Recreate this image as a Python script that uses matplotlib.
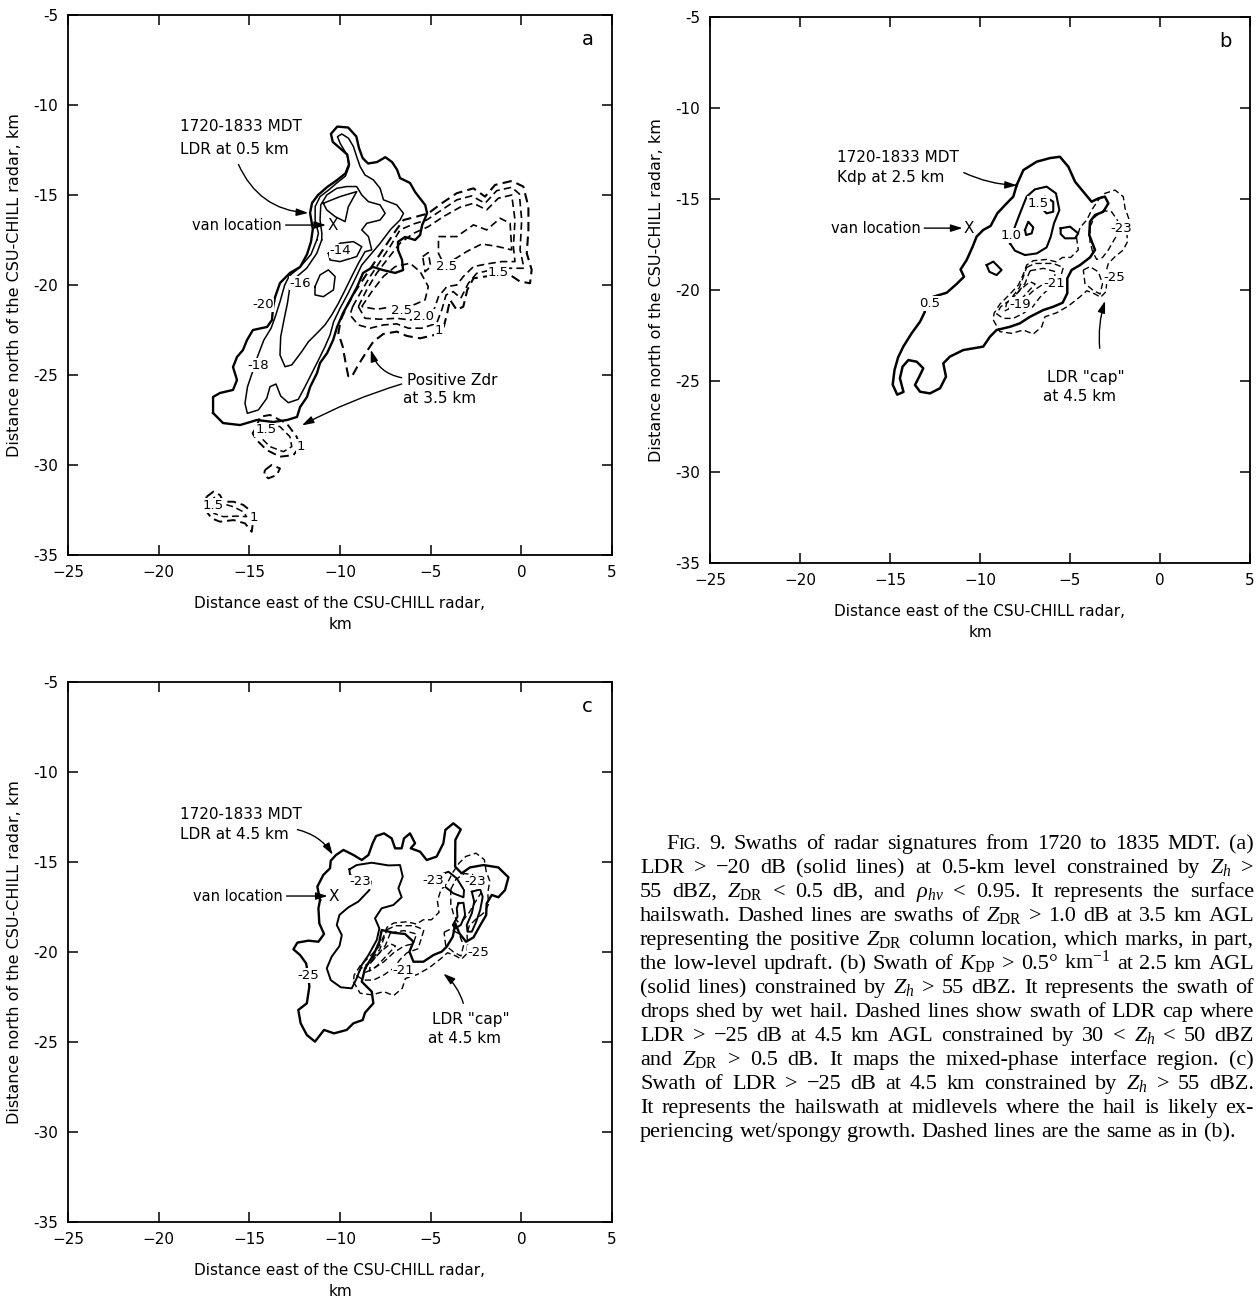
import matplotlib.pyplot as plt

plt.rcParams['font.family'] = 'DejaVu Sans'
plt.rcParams['mathtext.fontset'] = 'custom'
plt.rcParams['mathtext.rm'] = 'Liberation Serif'
plt.rcParams['mathtext.it'] = 'Liberation Serif:italic'

W, H = 1256, 1299

# ---------------- panel a: LDR at 0.5 km (solid) and Zdr at 3.5 km (dashed), km
a_ldr_m20 = [(-17.0, -27.11), (-17.0, -26.22), (-16.62, -26.0), (-15.9, -25.83), (-15.68, -25.28),
             (-15.9, -24.56), (-15.68, -24.0), (-15.35, -23.61), (-15.13, -23.06), (-14.8, -22.5),
             (-14.02, -22.33), (-13.75, -21.94), (-13.69, -21.22), (-13.58, -20.67), (-13.31, -19.89),
             (-12.76, -19.33), (-12.2, -19.0), (-11.82, -18.3), (-11.6, -17.6), (-11.5, -16.9),
             (-11.65, -16.0), (-11.54, -15.44), (-11.21, -15.0), (-10.71, -14.56), (-10.16, -14.17),
             (-9.7, -13.8), (-9.5, -13.3), (-9.6, -12.75), (-10.0, -12.4), (-10.4, -12.05),
             (-10.5, -11.6), (-10.15, -11.2), (-9.55, -11.25), (-9.1, -11.75), (-8.95, -12.4),
             (-8.75, -12.95), (-8.45, -13.25), (-7.96, -13.17), (-7.5, -12.9), (-7.13, -13.17),
             (-6.85, -13.6), (-6.69, -14.06), (-6.14, -14.33), (-5.86, -14.83), (-5.6, -15.17),
             (-5.3, -15.56), (-5.2, -16.0), (-5.3, -16.28), (-5.47, -16.67), (-5.58, -17.22),
             (-5.86, -17.5), (-6.41, -17.33), (-6.8, -17.6), (-6.8, -18.06), (-6.58, -18.6),
             (-6.52, -19.17), (-6.96, -19.33), (-7.63, -19.17), (-8.18, -19.0), (-8.73, -19.33),
             (-9.06, -20.11), (-9.44, -20.83), (-9.83, -21.56), (-10.16, -22.33), (-10.38, -23.06),
             (-10.71, -23.78), (-11.1, -24.33), (-11.27, -24.9), (-11.65, -25.67), (-11.82, -26.22),
             (-12.2, -26.78), (-12.37, -27.33), (-12.92, -27.5), (-13.69, -27.61), (-14.58, -27.5),
             (-15.51, -27.78), (-16.45, -27.67)]
a_ldr_m18 = [(-11.28, -17.5), (-11.6, -18.3), (-12.2, -19.0), (-12.8, -19.5), (-13.05, -20.0),
             (-13.3, -20.9), (-13.55, -21.7), (-13.8, -22.4), (-14.2, -23.06), (-14.55, -23.98),
             (-14.85, -24.91), (-15.1, -25.65), (-15.24, -26.57), (-15.11, -27.13), (-14.5, -26.94),
             (-14.04, -26.3), (-13.86, -25.65), (-13.53, -25.5), (-13.27, -26.17), (-12.85, -26.54),
             (-12.3, -26.35), (-11.93, -25.65), (-11.56, -24.91), (-11.19, -24.17), (-10.83, -23.43),
             (-10.55, -22.78), (-10.35, -22.04), (-10.0, -21.3), (-9.55, -20.46), (-9.15, -19.63),
             (-8.8, -18.89), (-7.8, -17.7), (-7.2, -16.9), (-6.69, -16.39), (-6.5, -16.02),
             (-6.87, -15.55), (-7.6, -15.27), (-7.79, -14.63), (-8.16, -14.16), (-8.62, -13.89),
             (-8.89, -13.42), (-9.08, -12.87), (-9.26, -12.31), (-9.53, -11.85), (-9.9, -11.61),
             (-10.14, -11.76), (-9.99, -12.13), (-9.6, -12.8), (-9.5, -13.4), (-9.7, -13.95),
             (-10.2, -14.35), (-10.6, -14.7), (-11.1, -15.09), (-11.37, -15.64), (-11.37, -16.39),
             (-11.19, -17.13)]
a_ldr_m16 = [(-11.01, -17.5), (-11.28, -18.24), (-11.84, -19.07), (-12.39, -19.54), (-12.76, -20.09),
             (-12.9, -21.02), (-13.09, -21.94), (-13.27, -22.87), (-13.31, -23.89), (-13.03, -24.54),
             (-12.66, -24.44), (-12.11, -23.7), (-11.74, -23.15), (-11.28, -22.69), (-10.83, -22.22),
             (-10.46, -21.67), (-10.09, -21.02), (-9.72, -20.28), (-9.36, -19.54), (-8.99, -18.8),
             (-8.62, -18.15), (-8.25, -18.05), (-8.43, -17.31), (-8.8, -16.94), (-8.52, -16.57),
             (-7.79, -16.39), (-7.51, -16.02), (-7.79, -15.55), (-8.43, -15.37), (-8.8, -15.0),
             (-9.08, -14.53), (-9.63, -14.53), (-10.18, -14.63), (-10.73, -15.0), (-11.06, -15.55),
             (-11.1, -16.39), (-11.0, -17.13)]
a_ldr_m14_n = [(-10.92, -15.46), (-10.0, -15.09), (-9.08, -14.81), (-9.54, -15.65), (-9.72, -16.48),
               (-10.27, -16.2), (-10.73, -15.83)]
a_ldr_m14_c = [(-10.64, -18.24), (-10.0, -17.68), (-9.26, -17.59), (-8.8, -17.87), (-9.08, -18.42),
               (-10.0, -18.7), (-10.55, -18.61)]
a_ldr_m14_s = [(-11.38, -20.09), (-11.1, -19.44), (-10.64, -19.16), (-10.27, -19.53), (-10.36, -20.27),
               (-10.92, -20.65), (-11.38, -20.55)]

a_zdr_10 = [(-9.54, -25.09), (-9.72, -24.16), (-9.85, -23.42), (-10.09, -22.68), (-9.96, -21.94),
            (-9.63, -21.2), (-9.17, -20.37), (-8.62, -19.53), (-8.07, -18.7), (-7.52, -17.87),
            (-6.96, -17.03), (-6.5, -16.39), (-5.77, -16.2), (-5.13, -16.02), (-4.39, -15.46),
            (-3.56, -14.9), (-2.64, -14.63), (-2.0, -15.09), (-1.45, -14.44), (-0.53, -14.22),
            (0.11, -14.53), (0.39, -15.65), (0.39, -16.94), (0.3, -18.24), (0.57, -19.16),
            (0.48, -19.9), (-0.07, -19.81), (-0.62, -19.44), (-1.27, -19.44), (-2.0, -19.53),
            (-2.64, -19.63), (-2.98, -20.27), (-3.2, -21.2), (-3.56, -21.39), (-3.93, -20.83),
            (-4.11, -21.66), (-4.3, -22.4), (-4.76, -22.77), (-5.58, -22.96), (-6.32, -22.83),
            (-6.87, -22.59), (-7.61, -22.72), (-8.16, -23.14), (-8.53, -23.7), (-8.99, -24.44),
            (-9.35, -25.09)]
a_zdr_15 = [(-9.3, -21.2), (-8.89, -20.46), (-8.34, -19.53), (-7.79, -18.7), (-7.24, -17.87),
            (-6.69, -16.94), (-5.95, -16.61), (-5.22, -16.39), (-4.39, -15.83), (-3.56, -15.27),
            (-2.74, -15.05), (-2.0, -15.46), (-1.36, -14.76), (-0.53, -14.57), (-0.11, -14.94),
            (0.02, -16.39), (-0.07, -18.05), (0.15, -19.07), (-0.44, -19.07), (-1.08, -19.07),
            (-1.82, -19.2), (-2.46, -19.35), (-2.92, -19.9), (-3.34, -20.74), (-3.75, -20.37),
            (-4.15, -20.55), (-4.39, -21.39), (-4.67, -22.13), (-5.49, -22.4), (-6.23, -22.4),
            (-6.87, -22.16), (-7.61, -22.22), (-8.34, -22.4), (-8.99, -22.22), (-9.45, -21.66)]
a_zdr_20 = [(-8.99, -21.2), (-8.53, -20.27), (-7.98, -19.35), (-7.42, -18.61), (-6.69, -17.68),
            (-5.95, -17.13), (-5.13, -16.76), (-4.3, -16.2), (-3.38, -15.68), (-2.64, -15.46),
            (-1.91, -15.83), (-1.27, -15.18), (-0.53, -15.0), (-0.35, -16.39), (-0.44, -17.87),
            (-0.35, -18.7), (-1.08, -18.7), (-1.91, -18.83), (-2.64, -18.98), (-3.2, -19.53),
            (-3.56, -20.0), (-4.11, -20.09), (-4.57, -20.65), (-4.85, -21.48), (-5.31, -21.85),
            (-6.14, -21.94), (-6.87, -21.85), (-7.79, -21.9), (-8.62, -21.85)]
a_zdr_25_ne = [(-4.57, -17.31), (-3.56, -17.31), (-2.64, -16.66), (-1.91, -16.94), (-1.17, -16.29),
               (-0.62, -16.57), (-0.53, -18.05), (-1.27, -17.87), (-2.18, -17.72), (-3.01, -18.14),
               (-3.75, -18.61), (-4.3, -18.79), (-4.57, -18.24)]
a_zdr_25_sw = [(-8.8, -21.2), (-8.25, -20.37), (-7.61, -19.53), (-6.96, -18.98), (-6.14, -18.79),
               (-5.58, -19.26), (-5.13, -20.09), (-5.31, -20.83), (-5.95, -21.11), (-7.06, -21.2),
               (-7.98, -21.35)]
a_zdr_25_cell = [(-5.44, -18.42), (-5.13, -18.2), (-5.0, -18.98), (-5.31, -19.26)]
a_zdr_10_s = [(-14.6, -27.87), (-14.41, -27.32), (-13.86, -27.22), (-12.94, -27.69), (-12.39, -28.43),
              (-12.21, -28.98), (-12.57, -29.45), (-13.31, -29.54), (-14.04, -29.17), (-14.6, -28.61),
              (-14.82, -28.24)]
a_zdr_15_s = [(-14.41, -28.06), (-14.04, -27.69), (-13.31, -27.87), (-12.76, -28.43), (-12.66, -28.98),
              (-13.12, -29.26), (-13.86, -28.98), (-14.32, -28.52)]
a_zdr_10_dot = [(-14.14, -30.28), (-13.77, -30.0), (-13.31, -30.19), (-13.49, -30.56), (-13.95, -30.74),
                (-14.19, -30.56)]
a_zdr_10_far = [(-17.35, -31.76), (-16.98, -31.48), (-16.62, -31.67), (-16.43, -32.04), (-15.88, -32.04),
                (-15.33, -32.22), (-14.87, -32.6), (-14.78, -33.06), (-14.87, -33.71), (-15.24, -33.24),
                (-15.88, -33.06), (-16.62, -33.15), (-17.08, -32.96), (-17.35, -32.6), (-17.54, -32.22)]
a_zdr_15_far = [(-17.17, -32.04), (-16.89, -31.76), (-16.52, -32.13), (-15.88, -32.32), (-15.33, -32.6),
                (-15.15, -32.87), (-15.7, -32.84), (-16.43, -32.87), (-16.95, -32.69)]

# ---------------- panel b: Kdp at 2.5 km (solid), km
b_kdp_05 = [(-7.96, -14.23), (-7.59, -13.41), (-6.85, -12.95), (-6.1, -12.75), (-5.56, -12.68),
            (-5.09, -13.23), (-4.72, -14.05), (-4.26, -14.6), (-3.8, -15.15), (-3.43, -14.97),
            (-3.06, -14.87), (-2.87, -15.24), (-3.15, -15.7), (-3.61, -15.88), (-3.89, -16.25),
            (-3.93, -16.98), (-3.61, -17.8), (-3.89, -18.21), (-4.44, -18.63), (-4.91, -18.9),
            (-5.15, -19.36), (-5.15, -20.18), (-5.41, -20.7), (-5.93, -20.92), (-6.48, -21.1),
            (-7.22, -21.47), (-7.78, -21.83), (-8.33, -22.02), (-9.08, -22.2), (-9.45, -22.57),
            (-9.82, -23.11), (-10.93, -23.3), (-11.67, -23.66), (-12.04, -24.03), (-11.89, -24.76),
            (-12.22, -25.4), (-12.78, -25.68), (-13.33, -25.59), (-13.61, -25.22), (-13.33, -24.67),
            (-13.15, -24.3), (-13.52, -23.94), (-13.98, -23.85), (-14.3, -24.21), (-14.45, -24.85),
            (-14.25, -25.6), (-14.6, -25.75), (-14.85, -25.2), (-14.75, -24.4), (-14.55, -23.7),
            (-14.26, -23.11), (-13.8, -22.38), (-13.33, -21.74), (-13.06, -21.19), (-13.24, -20.73),
            (-12.59, -20.37), (-11.85, -20.15), (-11.3, -19.67), (-10.89, -19.27), (-11.08, -18.87),
            (-10.74, -18.35), (-10.41, -17.62), (-10.19, -17.07), (-9.82, -16.7), (-9.41, -16.48),
            (-9.04, -15.79), (-8.52, -15.24), (-8.15, -14.87)]
b_kdp_10 = [(-8.33, -17.44), (-8.06, -16.52), (-7.78, -15.79), (-7.41, -14.87), (-6.95, -14.47),
            (-6.3, -14.32), (-5.78, -14.69), (-5.59, -15.61), (-5.89, -16.34), (-6.07, -17.07),
            (-6.3, -17.66), (-6.85, -17.99), (-7.5, -18.08), (-8.06, -17.84)]
b_kdp_15 = [(-6.76, -15.15), (-6.39, -14.87), (-5.93, -15.15), (-5.93, -15.7), (-6.3, -15.79),
            (-6.57, -15.51)]
b_kdp_10_w = [(-7.5, -16.7), (-7.32, -16.25), (-7.04, -16.56), (-7.13, -16.89), (-7.44, -16.98)]
b_kdp_10_e = [(-5.52, -16.61), (-5.0, -16.52), (-4.54, -16.89), (-4.72, -17.16), (-5.28, -17.16),
              (-5.52, -16.92)]
b_kdp_10_s = [(-9.63, -18.63), (-9.26, -18.44), (-8.8, -18.9), (-9.08, -19.18), (-9.48, -19.0)]

# ---------------- LDR "cap" at 4.5 km (dashed, panels b and c), km
cap_m25 = [(-9.26, -21.65), (-8.89, -22.29), (-8.24, -22.38), (-7.59, -22.2), (-7.04, -22.42),
           (-6.57, -22.02), (-6.39, -21.47), (-5.74, -21.25), (-5.09, -20.88), (-4.44, -20.37),
           (-4.07, -20.04), (-3.61, -20.22), (-3.3, -20.4), (-3.0, -20.09), (-2.96, -19.54),
           (-3.0, -19.0), (-2.87, -18.54), (-2.5, -18.17), (-2.04, -17.8), (-1.81, -17.35),
           (-1.85, -16.71), (-1.74, -16.06), (-1.94, -15.52), (-2.04, -14.87), (-2.5, -14.51),
           (-3.06, -14.69), (-3.43, -15.06), (-3.8, -15.61), (-4.07, -16.16), (-4.44, -16.56),
           (-4.63, -17.16), (-4.54, -17.8), (-4.96, -18.21), (-5.41, -18.21), (-5.78, -18.45),
           (-6.3, -18.32), (-7.04, -18.39), (-7.41, -18.63), (-7.59, -19.12), (-7.87, -19.73),
           (-8.33, -20.22), (-8.89, -20.77), (-9.22, -21.28)]
cap_m25_cell = [(-4.26, -18.9), (-3.89, -18.72), (-3.43, -19.0), (-3.19, -19.64), (-3.33, -20.22),
                (-3.74, -20.0), (-4.17, -19.64)]
cap_m23_ne = [(-3.89, -16.52), (-3.61, -15.97), (-3.15, -15.64), (-2.69, -15.7), (-2.37, -16.16),
              (-2.22, -16.71), (-2.56, -17.26), (-2.87, -17.8), (-3.19, -18.21), (-3.52, -18.32),
              (-3.74, -17.9), (-3.89, -17.35)]
cap_m23_sw = [(-7.41, -18.76), (-6.94, -18.54), (-5.93, -18.54), (-5.37, -18.76), (-5.52, -19.27),
              (-5.7, -19.82), (-6.3, -20.04), (-6.67, -20.4), (-7.07, -20.92), (-7.59, -21.28),
              (-8.15, -21.56), (-8.7, -21.56), (-9.07, -21.32), (-8.85, -20.92), (-8.33, -20.55),
              (-7.81, -19.86), (-7.59, -19.27)]
cap_m21 = [(-7.22, -18.94), (-6.48, -18.81), (-5.78, -19.0), (-5.96, -19.54), (-6.48, -19.67),
           (-7.04, -20.04), (-7.59, -20.55), (-8.15, -20.92), (-8.61, -21.14), (-8.52, -20.73),
           (-7.96, -20.22), (-7.5, -19.64)]
cap_m19 = [(-8.33, -20.64), (-7.78, -20.0), (-7.22, -19.54), (-6.94, -19.67), (-7.41, -20.18),
           (-7.96, -20.77), (-8.37, -21.06)]

# ---------------- panel c: LDR at 4.5 km (solid), km
c_ldr_m25 = [(-11.1, -17.11), (-11.25, -16.37), (-10.92, -15.72), (-10.55, -15.35), (-10.51, -14.93),
             (-10.22, -14.61), (-9.81, -14.33), (-9.26, -14.61), (-8.8, -14.89), (-8.43, -14.61),
             (-8.2, -13.96), (-8.01, -13.56), (-7.57, -13.41), (-7.15, -13.69), (-6.96, -14.24),
             (-6.6, -14.24), (-6.47, -13.69), (-6.14, -13.41), (-5.86, -13.96), (-6.1, -14.24),
             (-5.58, -14.43), (-5.22, -14.89), (-4.67, -14.7), (-4.3, -13.96), (-4.19, -13.22),
             (-3.75, -12.85), (-3.34, -13.19), (-3.64, -13.78), (-3.65, -15.26), (-3.29, -15.63),
             (-2.83, -15.3), (-2.09, -15.17), (-1.27, -15.3), (-0.71, -15.85), (-0.9, -16.56),
             (-1.27, -16.96), (-1.63, -16.83), (-1.91, -17.3), (-1.94, -17.95), (-2.31, -18.59),
             (-2.64, -19.19), (-3.05, -19.43), (-3.42, -18.96), (-3.64, -18.41), (-3.78, -19.15),
             (-4.11, -19.7), (-4.39, -19.98), (-4.85, -20.17), (-5.4, -20.54), (-5.95, -20.54),
             (-6.17, -19.98), (-5.95, -19.43), (-6.41, -19.0), (-7.06, -18.93), (-7.7, -18.78),
             (-7.83, -19.43), (-8.16, -20.17), (-8.62, -20.91), (-8.8, -21.65), (-8.25, -22.2),
             (-8.16, -22.85), (-8.62, -23.37), (-8.75, -23.78), (-9.26, -23.96), (-9.63, -24.33),
             (-10.33, -24.52), (-10.88, -24.33), (-11.38, -24.98), (-11.83, -24.61), (-12.17, -23.96),
             (-12.3, -23.22), (-11.83, -22.85), (-11.69, -21.93), (-11.74, -21.37), (-11.87, -20.63),
             (-12.2, -20.17), (-12.57, -19.85), (-12.35, -19.48), (-11.74, -19.37), (-11.19, -19.43),
             (-10.88, -19.0), (-11.14, -18.41), (-11.19, -17.57)]
c_ldr_m23_core = [(-9.48, -15.41), (-9.08, -15.17), (-8.25, -15.04), (-7.33, -15.19), (-6.69, -15.17),
                  (-6.54, -15.81), (-6.78, -16.46), (-6.6, -16.96), (-7.06, -17.39), (-7.7, -17.57),
                  (-8.07, -18.13), (-7.83, -18.69), (-7.97, -19.33), (-8.43, -20.17), (-8.8, -20.72),
                  (-9.08, -21.46), (-9.35, -22.02), (-9.96, -21.96), (-10.51, -21.56), (-10.73, -20.91),
                  (-10.46, -20.26), (-10.03, -19.67), (-9.9, -19.06), (-10.18, -18.5), (-10.03, -17.94),
                  (-9.54, -17.52), (-8.99, -17.2), (-8.38, -16.56), (-8.3, -16.09), (-8.62, -15.78),
                  (-9.17, -15.85), (-9.45, -15.72)]
c_ldr_m23_leaf = [(-4.48, -15.72), (-4.02, -15.54), (-3.56, -15.91), (-3.16, -16.56), (-3.19, -16.96),
                  (-3.75, -16.74), (-4.26, -16.33)]
c_ldr_m23_f1 = [(-2.73, -16.65), (-2.27, -16.52), (-2.13, -16.93), (-2.27, -17.67), (-2.49, -18.32),
                (-2.73, -18.87), (-2.97, -18.87), (-3.01, -18.5), (-2.73, -17.85), (-2.6, -17.2)]
c_ldr_m23_f2 = [(-3.47, -17.3), (-3.19, -17.26), (-3.1, -17.94), (-3.34, -18.5), (-3.65, -18.69),
                (-3.78, -18.5), (-3.52, -18.04), (-3.56, -17.57)]

van_a = (-10.42, -16.67)
van_b = (-10.62, -16.6)
van_c = (-10.33, -16.89)

caption = [
    "FIG. 9. Swaths of radar signatures from 1720 to 1835 MDT. (a)",
    "LDR > \u221220 dB (solid lines) at 0.5-km level constrained by $Z_h$ >",
    "55 dBZ, $Z_{\\mathrm{DR}}$ < 0.5 dB, and $\\rho_{hv}$ < 0.95. It represents the surface",
    "hailswath. Dashed lines are swaths of $Z_{\\mathrm{DR}}$ > 1.0 dB at 3.5 km AGL",
    "representing the positive $Z_{\\mathrm{DR}}$ column location, which marks, in part,",
    "the low-level updraft. (b) Swath of $K_{\\mathrm{DP}}$ > 0.5\u00b0 km$^{-1}$ at 2.5 km AGL",
    "(solid lines) constrained by $Z_h$ > 55 dBZ. It represents the swath of",
    "drops shed by wet hail. Dashed lines show swath of LDR cap where",
    "LDR > \u221225 dB at 4.5 km AGL constrained by 30 < $Z_h$ < 50 dBZ",
    "and $Z_{\\mathrm{DR}}$ > 0.5 dB. It maps the mixed-phase interface region. (c)",
    "Swath of LDR > \u221225 dB at 4.5 km constrained by $Z_h$ > 55 dBZ.",
    "It represents the hailswath at midlevels where the hail is likely ex-",
    "periencing wet/spongy growth. Dashed lines are the same as in (b).",
]

fig = plt.figure(figsize=(W / 100, H / 100), dpi=100)


def frame(left, top, right, bottom, letter):
    ax = fig.add_axes([left / W, 1 - bottom / H, (right - left) / W, (bottom - top) / H])
    ax.set_xlim(-25, 5)
    ax.set_ylim(-35, -5)
    ax.set_xticks(range(-25, 6, 5))
    ax.set_yticks(range(-35, -4, 5))
    ax.set_yticklabels([str(v) for v in range(-35, -4, 5)])
    ax.tick_params(direction='in', top=True, right=True, length=7, width=1.1,
                   labelsize=11, pad=7)
    for s in ax.spines.values():
        s.set_linewidth(1.3)
    ax.set_xlabel('Distance east of the CSU-CHILL radar,\nkm', fontsize=11, labelpad=12,
                  linespacing=1.5)
    ax.set_ylabel('Distance north of the CSU-CHILL radar, km', fontsize=11.5, labelpad=8)
    ax.text(0.955, 0.955, letter, transform=ax.transAxes, fontsize=14, ha='center', va='center')
    return ax


def outline(ax, pts, dashed=False, lw=1.2):
    xs = [p[0] for p in pts] + [pts[0][0]]
    ys = [p[1] for p in pts] + [pts[0][1]]
    if dashed:
        ax.plot(xs, ys, color='k', lw=lw, dashes=(4.5, 2.5))
    else:
        ax.plot(xs, ys, color='k', lw=lw, solid_joinstyle='round')


def clab(ax, x, y, s):
    ax.text(x, y, s, fontsize=9.5, ha='center', va='center', zorder=5,
            bbox=dict(fc='white', ec='none', pad=0.5))


def arrow(ax, tail, head, rad=0.0):
    ax.annotate('', xy=head, xytext=tail,
                arrowprops=dict(arrowstyle='-|>,head_length=0.7,head_width=0.22', color='k', lw=1,
                                connectionstyle='arc3,rad=%s' % rad, shrinkA=0, shrinkB=0))


def van(ax, pos, text_right):
    ax.text(text_right, pos[1], 'van location', fontsize=10.5, ha='right', va='center')
    arrow(ax, (text_right + 0.2, pos[1]), (pos[0] - 0.35, pos[1]))
    ax.text(pos[0], pos[1], 'X', fontsize=11, ha='center', va='center')


def draw_cap(ax):
    for pts in (cap_m25, cap_m25_cell, cap_m23_ne, cap_m23_sw, cap_m21, cap_m19):
        outline(ax, pts, dashed=True, lw=1.0)


# ---- panel a
ax = frame(68, 15, 612, 555, 'a')
outline(ax, a_ldr_m20, lw=1.7)
outline(ax, a_ldr_m18, lw=1.1)
outline(ax, a_ldr_m16, lw=1.1)
for pts in (a_ldr_m14_n, a_ldr_m14_c, a_ldr_m14_s):
    outline(ax, pts, lw=1.1)
outline(ax, a_zdr_10, dashed=True, lw=1.5)
for pts in (a_zdr_15, a_zdr_20, a_zdr_25_ne, a_zdr_25_sw, a_zdr_25_cell):
    outline(ax, pts, dashed=True, lw=1.2)
for pts in (a_zdr_10_s, a_zdr_10_dot, a_zdr_10_far):
    outline(ax, pts, dashed=True, lw=1.4)
for pts in (a_zdr_15_s, a_zdr_15_far):
    outline(ax, pts, dashed=True, lw=1.1)
for x, y, s in [(-14.25, -21.1, '-20'), (-12.2, -19.9, '-16'), (-10.0, -18.1, '-14'),
                (-14.5, -24.45, '-18'), (-4.1, -18.95, '2.5'), (-1.3, -19.3, '1.5'),
                (-6.6, -21.4, '2.5'), (-5.4, -21.75, '2.0'), (-4.55, -22.55, '1'),
                (-14.1, -28.05, '1.5'), (-12.15, -28.95, '1'), (-17.0, -32.25, '1.5'),
                (-14.75, -32.9, '1')]:
    clab(ax, x, y, s)
ax.text(-18.8, -11.2, '1720-1833 MDT', fontsize=11, ha='left', va='center')
ax.text(-18.8, -12.45, 'LDR at 0.5 km', fontsize=11, ha='left', va='center')
arrow(ax, (-15.6, -13.3), (-11.75, -16.0), rad=0.3)
van(ax, van_a, -13.2)
ax.text(-6.3, -25.3, 'Positive Zdr', fontsize=11, ha='left', va='center')
ax.text(-6.5, -26.3, 'at 3.5 km', fontsize=11, ha='left', va='center')
arrow(ax, (-6.6, -25.15), (-8.3, -23.6), rad=-0.3)
arrow(ax, (-6.6, -25.5), (-12.1, -27.8), rad=0.05)

# ---- panel b
ax = frame(710, 17, 1250, 563, 'b')
outline(ax, b_kdp_05, lw=1.8)
outline(ax, b_kdp_10, lw=1.5)
for pts in (b_kdp_15, b_kdp_10_w, b_kdp_10_e, b_kdp_10_s):
    outline(ax, pts, lw=1.5)
draw_cap(ax)
for x, y, s in [(-6.75, -15.25, '1.5'), (-8.3, -17.0, '1.0'), (-12.8, -20.75, '0.5'),
                (-2.15, -16.6, '-23'), (-2.55, -19.3, '-25'), (-5.85, -19.65, '-21'),
                (-7.75, -20.8, '-19')]:
    clab(ax, x, y, s)
ax.text(-17.95, -12.7, '1720-1833 MDT', fontsize=11, ha='left', va='center')
ax.text(-17.95, -13.8, 'Kdp at 2.5 km', fontsize=11, ha='left', va='center')
arrow(ax, (-10.9, -13.55), (-7.95, -14.25), rad=0.1)
van(ax, van_b, -13.3)
ax.text(-6.3, -24.8, 'LDR "cap"', fontsize=11, ha='left', va='center')
ax.text(-6.5, -25.85, 'at 4.5 km', fontsize=11, ha='left', va='center')
arrow(ax, (-3.35, -23.2), (-3.05, -20.6), rad=-0.1)

# ---- panel c
ax = frame(68, 682, 612, 1222, 'c')
outline(ax, c_ldr_m25, lw=1.7)
for pts in (c_ldr_m23_core, c_ldr_m23_leaf, c_ldr_m23_f1, c_ldr_m23_f2):
    outline(ax, pts, lw=1.4)
draw_cap(ax)
for x, y, s in [(-8.9, -16.1, '-23'), (-4.85, -16.0, '-23'), (-2.55, -16.1, '-23'),
                (-11.75, -21.3, '-25'), (-6.5, -21.0, '-21'), (-2.35, -20.0, '-25')]:
    clab(ax, x, y, s)
ax.text(-18.8, -12.35, '1720-1833 MDT', fontsize=11, ha='left', va='center')
ax.text(-18.8, -13.45, 'LDR at 4.5 km', fontsize=11, ha='left', va='center')
arrow(ax, (-12.35, -13.2), (-10.4, -14.6), rad=-0.2)
van(ax, van_c, -13.15)
ax.text(-4.95, -23.75, 'LDR "cap"', fontsize=11, ha='left', va='center')
ax.text(-5.15, -24.8, 'at 4.5 km', fontsize=11, ha='left', va='center')
arrow(ax, (-3.2, -22.85), (-4.3, -21.2), rad=0.15)

# ---- caption, justified between x0 and x1 (pixels)
renderer = fig.canvas.get_renderer()
serif = 'Liberation Serif'
fs = 16
for i, line in enumerate(caption):
    ybase = 1 - (849 + 24 * i) / H
    x0 = 666 if i == 0 else 640
    x1 = 1254
    groups = []
    for w in line.split(' '):
        segs = [('F', fs), ('IG.', fs * 0.76)] if w == 'FIG.' else [(w, fs)]
        parts = []
        for s, size in segs:
            t = fig.text(0, ybase, s, fontsize=size, family=serif, va='baseline')
            parts.append((t, t.get_window_extent(renderer).width))
        groups.append(parts)
    total = sum(wd for g in groups for _, wd in g)
    last = i == len(caption) - 1
    gap = 5.5 if last else max((x1 - x0 - total) / (len(groups) - 1), 2.5)
    x = x0
    for g in groups:
        for t, wd in g:
            t.set_x(x / W)
            x += wd
        x += gap

fig.savefig('out.png', dpi=100)
